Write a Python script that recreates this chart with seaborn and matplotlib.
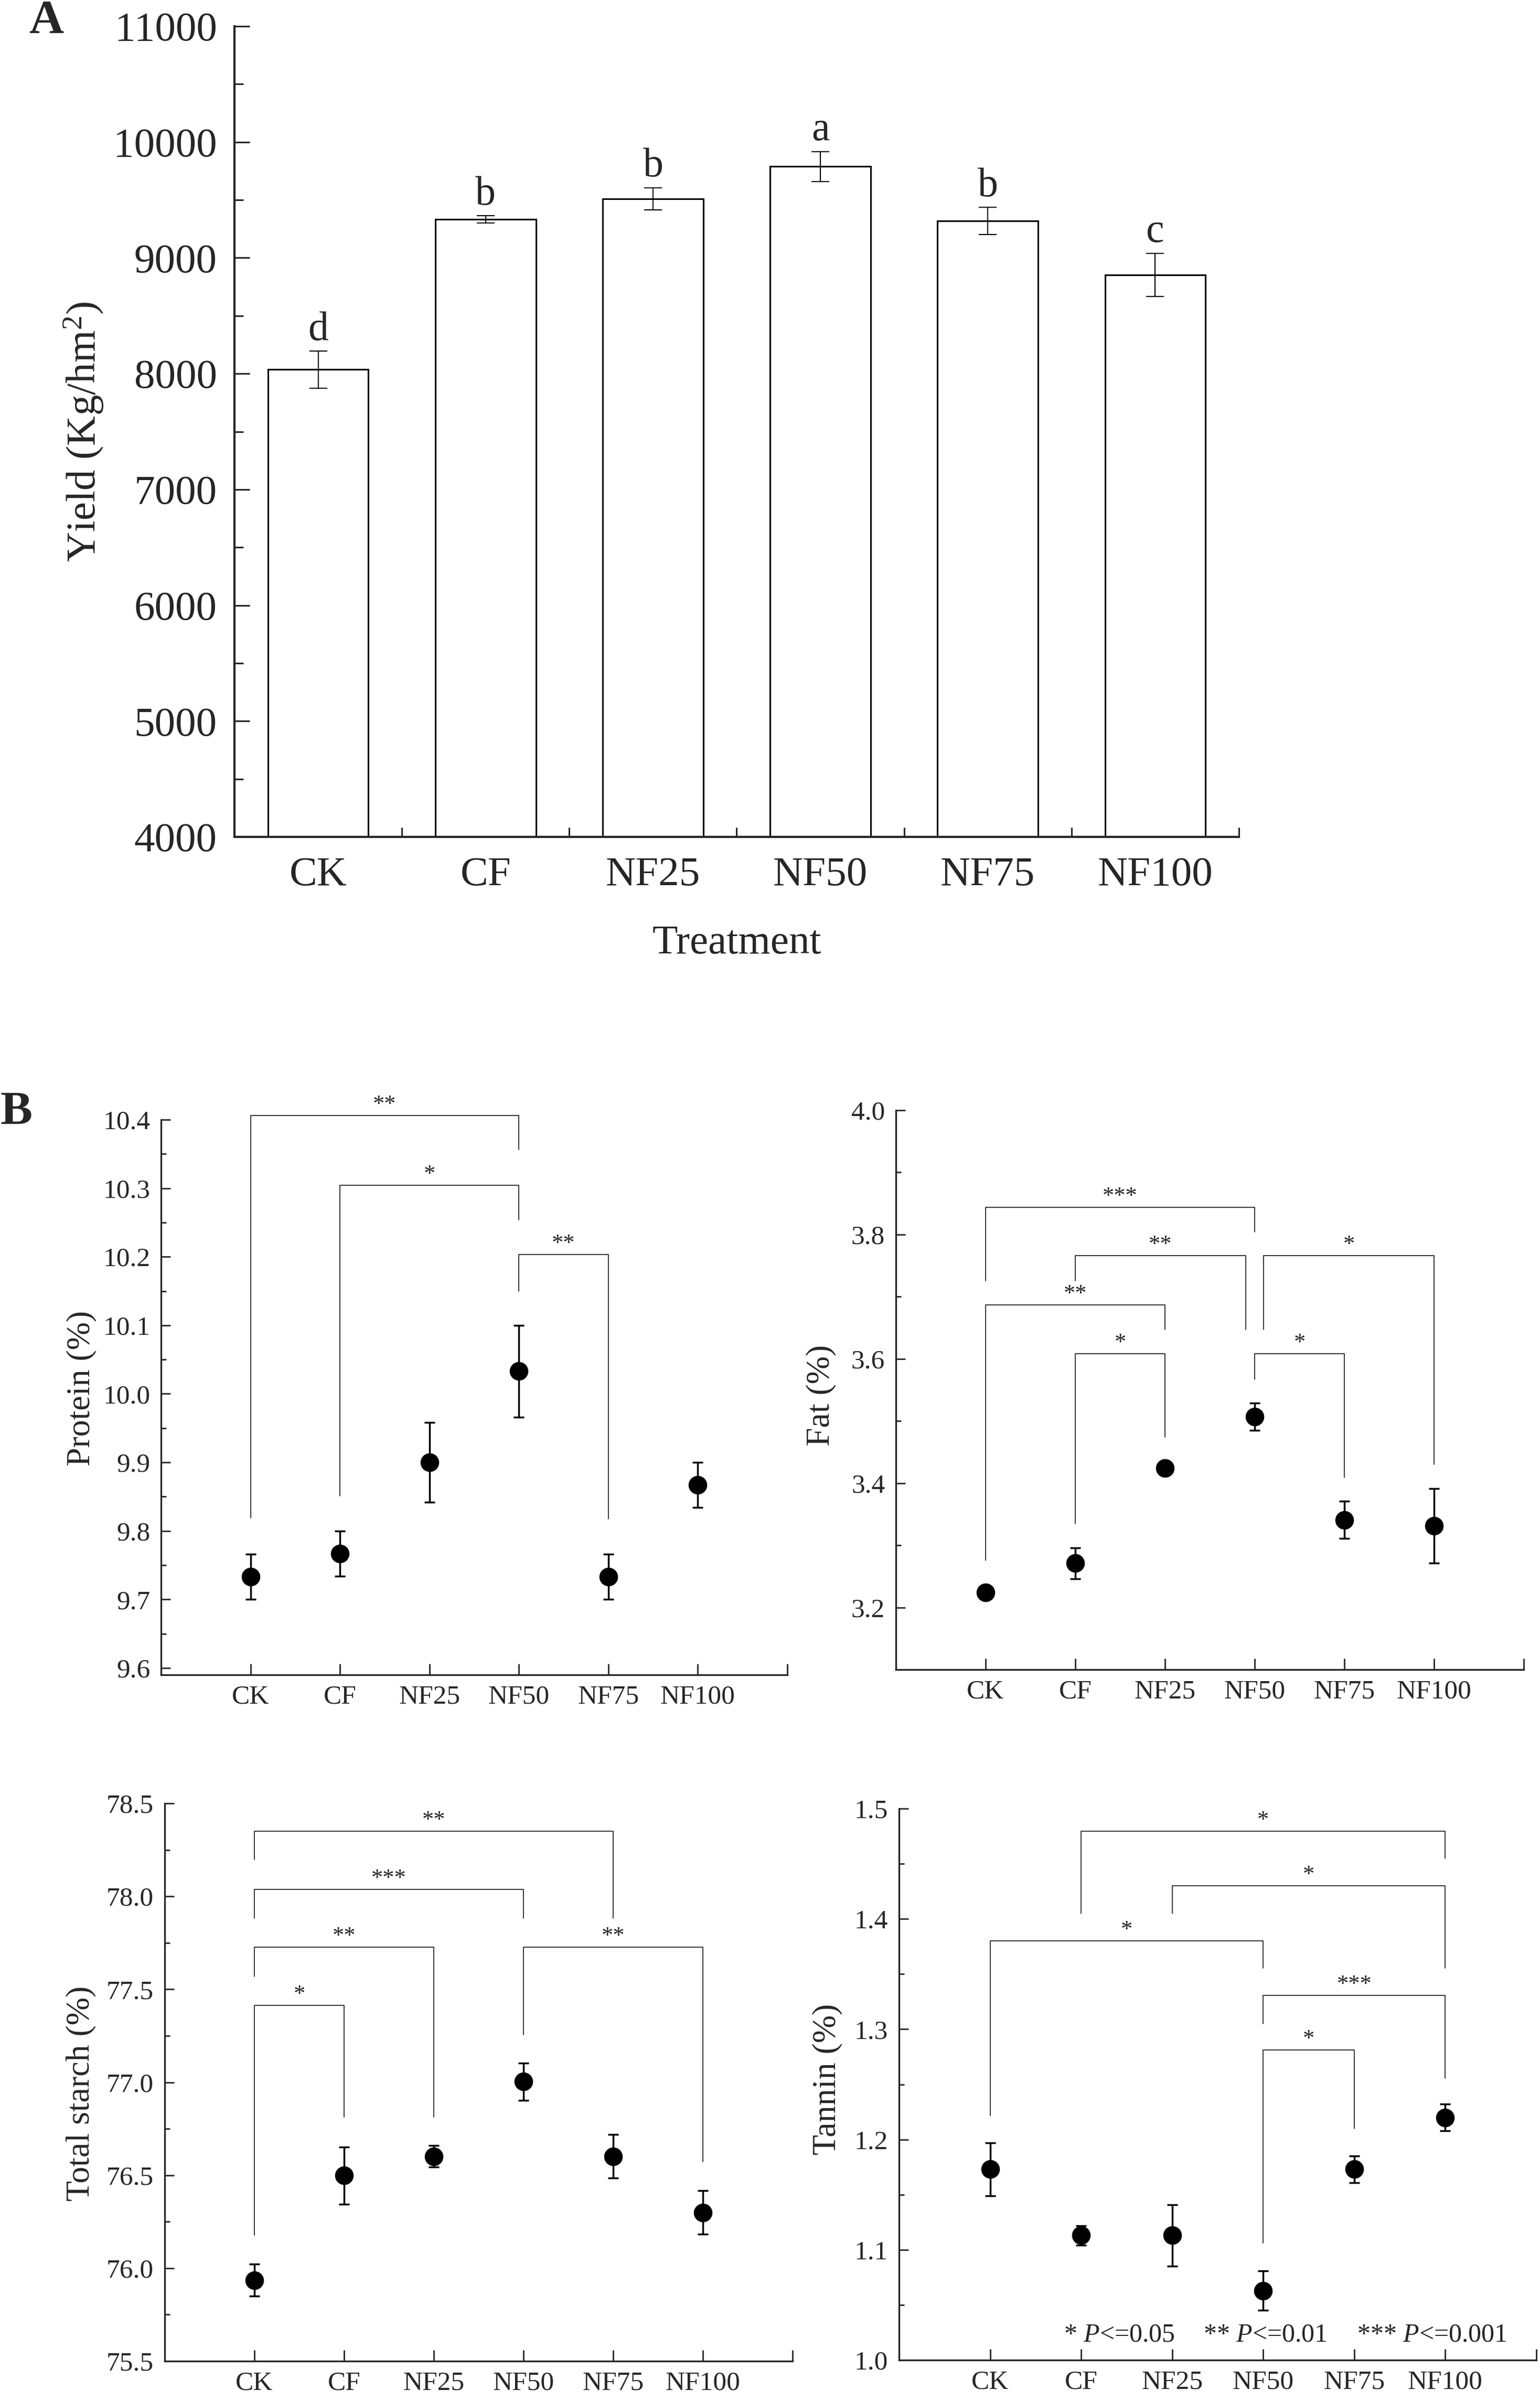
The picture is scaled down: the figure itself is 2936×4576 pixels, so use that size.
"""
Yield bars (A) and grain quality dot plots with significance brackets (B).
"""
import matplotlib
matplotlib.use("Agg")
import matplotlib.pyplot as plt
import seaborn as sns
from matplotlib.ticker import MultipleLocator, FixedLocator, FormatStrFormatter

sns.set_theme(style="ticks")
plt.rcParams["font.family"] = ["Liberation Serif", "DejaVu Serif"]
plt.rcParams["mathtext.fontset"] = "custom"
plt.rcParams["mathtext.rm"] = "Liberation Serif"
plt.rcParams["mathtext.it"] = "Liberation Serif:italic"

# ── Données ─────────────────────────────────────────────────────
treatments = ["CK", "CF", "NF25", "NF50", "NF75", "NF100"]

yield_mean = [8035, 9333, 9511, 9789, 9318, 8853]
yield_err = [160, 30, 95, 130, 118, 187]
yield_letters = ["d", "b", "b", "a", "b", "c"]

protein_mean = [9.733, 9.767, 9.900, 10.033, 9.733, 9.867]
protein_err = [0.033, 0.033, 0.058, 0.067, 0.033, 0.033]
# (gauche, droite, hauteur barre, fin jambe gauche, fin jambe droite, étoiles)
protein_brackets = [
    (0, 3, 10.406, 9.819, 10.356, "**"),
    (1, 3, 10.304, 9.851, 10.254, "*"),
    (3, 4, 10.203, 10.150, 9.817, "**"),
]

fat_mean = [3.224, 3.271, 3.424, 3.507, 3.341, 3.331]
fat_err = [0.010, 0.025, 0.006, 0.022, 0.030, 0.060]
fat_brackets = [
    (0, 3, 3.844, 3.726, 3.804, "***"),
    (1, 3, 3.766, 3.726, 3.647, "**"),
    (3, 5, 3.766, 3.647, 3.430, "*"),
    (0, 2, 3.687, 3.276, 3.647, "**"),
    (1, 2, 3.608, 3.335, 3.474, "*"),
    (3, 4, 3.608, 3.567, 3.409, "*"),
]

starch_mean = [75.936, 76.498, 76.602, 77.003, 76.602, 76.299]
starch_err = [0.086, 0.153, 0.058, 0.100, 0.116, 0.117]
starch_brackets = [
    (0, 4, 78.351, 78.197, 77.883, "**"),
    (0, 3, 78.036, 77.883, 77.883, "***"),
    (0, 2, 77.726, 77.570, 76.813, "**"),
    (0, 1, 77.414, 76.177, 76.813, "*"),
    (3, 5, 77.726, 77.256, 76.572, "**"),
]

tannin_mean = [1.173, 1.113, 1.113, 1.063, 1.173, 1.220]
tannin_err = [0.024, 0.009, 0.028, 0.018, 0.012, 0.012]
tannin_brackets = [
    (1, 5, 1.4795, 1.4047, 1.4547, "*"),
    (2, 5, 1.4299, 1.4047, 1.3555, "*"),
    (0, 3, 1.380, 1.2215, 1.3555, "*"),
    (3, 5, 1.3304, 1.3048, 1.2556, "***"),
    (3, 4, 1.2812, 1.1061, 1.2099, "*"),
]

p_legend = ["* $\\it{P}$<=0.05", "** $\\it{P}$<=0.01", "*** $\\it{P}$<=0.001"]

# ── Mise en page (pixels de la figure) ──────────────────────────
W, H = 2936, 4576


def rect(left, top, right, bottom):
    return [left / W, 1 - bottom / H, (right - left) / W, (bottom - top) / H]


fig = plt.figure(figsize=(W / 100, H / 100), dpi=100)
fig.patch.set_facecolor("white")

# ── Panneau A ───────────────────────────────────────────────────
axA = fig.add_axes(rect(447, 50, 2362, 1595))
sns.barplot(x=treatments, y=yield_mean, color="white", saturation=1,
            edgecolor="black", linewidth=2.2, width=0.6, errorbar=None, ax=axA)
axA.errorbar(range(len(treatments)), yield_mean, yerr=yield_err, fmt="none",
             ecolor="black", elinewidth=1.5, capsize=12, capthick=1.5, zorder=3)
for i, (m, e, lab) in enumerate(zip(yield_mean, yield_err, yield_letters)):
    axA.text(i, m + e + 20, lab, ha="center", va="bottom", fontsize=56)

axA.set_xlim(-0.5, 5.5)
axA.set_ylim(4000, 11000)
axA.yaxis.set_major_locator(MultipleLocator(1000))
axA.yaxis.set_minor_locator(MultipleLocator(500))
axA.xaxis.set_minor_locator(FixedLocator([-0.5, 0.5, 1.5, 2.5, 3.5, 4.5, 5.5]))
axA.tick_params(axis="y", which="major", direction="in", length=21, width=2.2,
                labelsize=57, pad=24)
axA.tick_params(axis="y", which="minor", direction="in", length=12, width=2.2)
axA.tick_params(axis="x", which="major", direction="in", length=20, width=2.2,
                labelsize=57, pad=27)
axA.tick_params(axis="x", which="minor", direction="in", length=13, width=2.2)
for s in ["top", "right"]:
    axA.spines[s].set_visible(False)
for s in ["left", "bottom"]:
    axA.spines[s].set_linewidth(3)
axA.set_xlabel("Treatment", fontsize=57, labelpad=42)
axA.set_ylabel("Yield (Kg/hm$^{2}$)", fontsize=57, va="center")
axA.yaxis.set_label_coords(-0.150, 0.5)

fig.text(55 / W, 1.0, "A", fontsize=66, fontweight="bold", ha="left", va="top")
fig.text(0.0, 1 - 2080 / H, "B", fontsize=66, fontweight="bold", ha="left", va="top")

# ── Panneau B ───────────────────────────────────────────────────
# petits décalages horizontaux de certaines jambes de crochets
nudges = {("fat", 1, 3): (0.0, -0.1), ("fat", 3, 5): (0.1, 0.0)}


def dot_panel(name, box, mean, err, brackets, ylim, major, minor, ylabel, lab_xy):
    ax = fig.add_axes(rect(*box))
    x = list(range(len(treatments)))
    ax.errorbar(x, mean, yerr=err, fmt="none", ecolor="black", elinewidth=2.5,
                capsize=7, capthick=2.5, zorder=2)
    sns.scatterplot(x=x, y=mean, color="black", edgecolor="black", s=560,
                    marker="o", zorder=3, ax=ax, legend=False)
    for i, j, yb, yl, yr, stars in brackets:
        dl, dr = nudges.get((name, i, j), (0.0, 0.0))
        xl, xr = i + dl, j + dr
        ax.plot([xl, xl, xr, xr], [yl, yb, yb, yr], color="black", lw=1.1,
                clip_on=False, zorder=1)
        ax.text((xl + xr) / 2, yb, stars, ha="center", va="bottom",
                fontsize=32, clip_on=False)
    ax.set_xlim(-1, 6)
    ax.set_ylim(*ylim)
    ax.set_xticks(x)
    ax.set_xticklabels(treatments)
    ax.xaxis.set_minor_locator(FixedLocator([6]))
    ax.yaxis.set_major_locator(MultipleLocator(major))
    ax.yaxis.set_minor_locator(MultipleLocator(minor))
    ax.yaxis.set_major_formatter(FormatStrFormatter("%.1f"))
    ax.tick_params(axis="y", which="major", direction="in", length=13, width=2,
                   labelsize=37, pad=15)
    ax.tick_params(axis="y", which="minor", direction="in", length=7, width=2)
    ax.tick_params(axis="x", which="both", direction="in", length=15, width=2,
                   labelsize=37, pad=14)
    for s in ["top", "right"]:
        ax.spines[s].set_visible(False)
    for s in ["left", "bottom"]:
        ax.spines[s].set_linewidth(2.4)
    ax.set_xlabel("")
    ax.set_ylabel(ylabel, fontsize=46, va="center")
    ax.yaxis.set_label_coords(*lab_xy)
    return ax


dot_panel("protein", (307, 2134, 1501, 3192), protein_mean, protein_err,
          protein_brackets, (9.59, 10.4), 0.1, 0.05, "Protein (%)", (-0.127, 0.516))
dot_panel("fat", (1708, 2116, 2905, 3182), fat_mean, fat_err,
          fat_brackets, (3.1, 4.0), 0.2, 0.1, "Fat (%)", (-0.119, 0.49))
dot_panel("starch", (314, 3437, 1511, 4500), starch_mean, starch_err,
          starch_brackets, (75.5, 78.5), 0.5, 0.25, "Total starch (%)", (-0.133, 0.48))
axT = dot_panel("tannin", (1714, 3447, 2929, 4498), tannin_mean, tannin_err,
                tannin_brackets, (1.0, 1.5), 0.1, 0.05, "Tannin (%)", (-0.112, 0.509))

for xpos, txt in zip([0.81, 2.34, 4.03], p_legend):
    axT.text(xpos, 1.0228, txt, ha="left", va="center", fontsize=36)

fig.savefig("out.png", dpi=100, facecolor="white")
